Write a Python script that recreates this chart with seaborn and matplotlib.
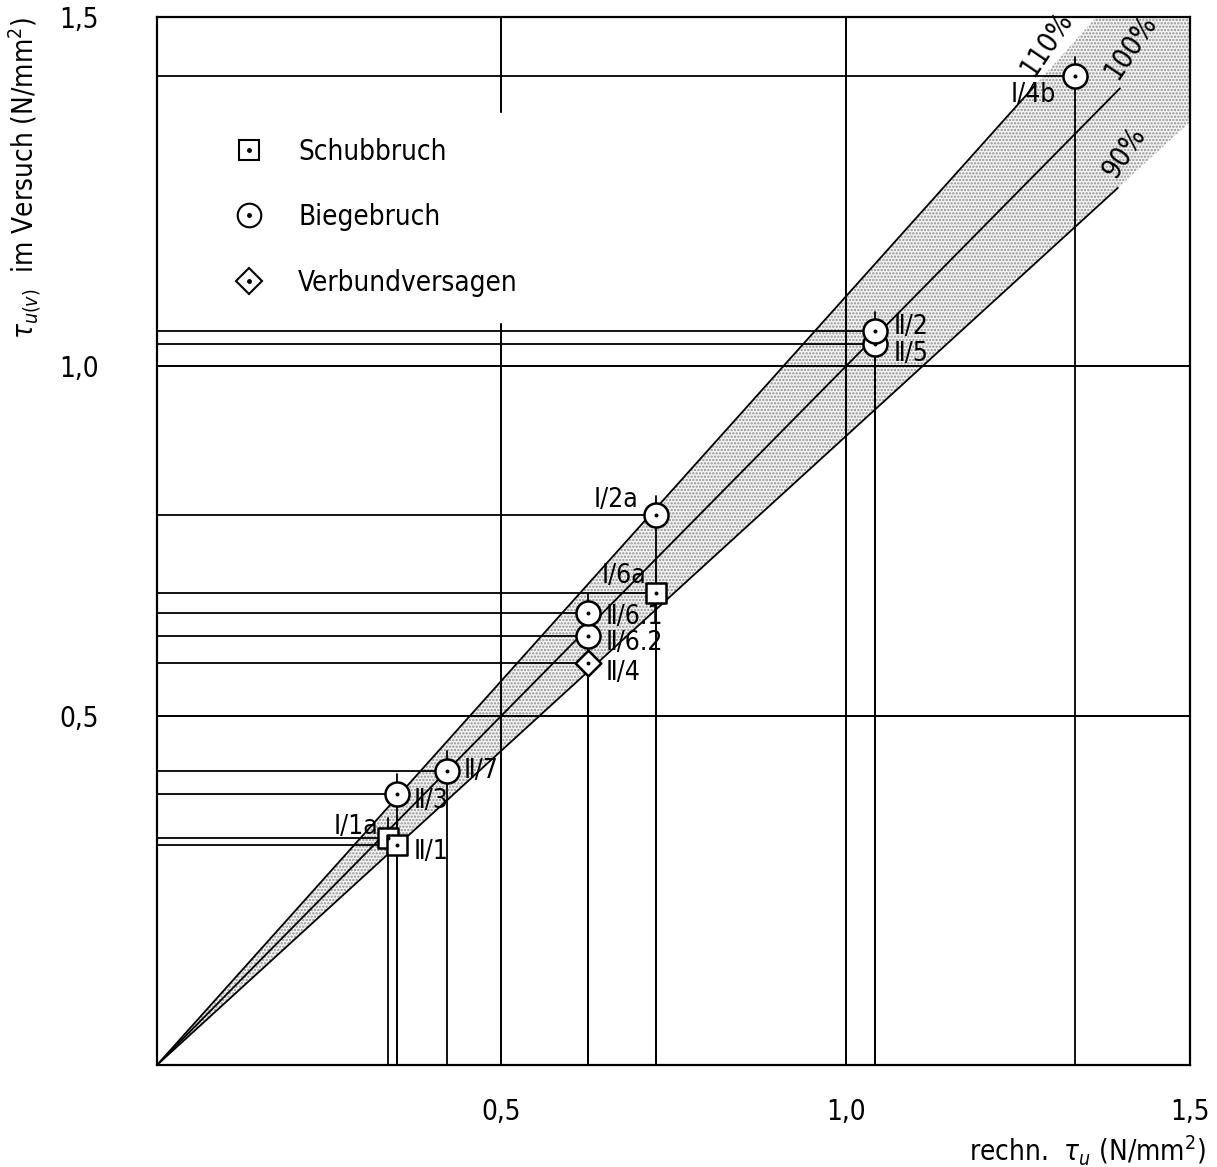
import seaborn as sns
import matplotlib.pyplot as plt
import numpy as np
import pandas as pd
from matplotlib.lines import Line2D

# Versuchswerte (rechn. tau_u / tau_u im Versuch)
labels = ['Ⅰ/1a', 'Ⅱ/1', 'Ⅱ/3', 'Ⅱ/7', 'Ⅱ/4', 'Ⅱ/6.2', 'Ⅱ/6.1', 'Ⅰ/6a', 'Ⅰ/2a', 'Ⅱ/5', 'Ⅱ/2', 'Ⅰ/4b']
x_calc = [0.335, 0.348, 0.348, 0.421, 0.625, 0.625, 0.625, 0.725, 0.725, 1.043, 1.043, 1.333]
y_test = [0.325, 0.315, 0.388, 0.421, 0.575, 0.614, 0.647, 0.676, 0.787, 1.032, 1.050, 1.415]
mode = ['Schubbruch', 'Schubbruch', 'Biegebruch', 'Biegebruch', 'Verbundversagen', 'Biegebruch',
        'Biegebruch', 'Schubbruch', 'Biegebruch', 'Biegebruch', 'Biegebruch', 'Biegebruch']
ratios = [1.1, 1.0, 0.9]
ratio_labels = ['110%', '100%', '90%']
ticks = [0, 0.5, 1.0, 1.5]
tick_labels = ['', '0,5', '1,0', '1,5']

df = pd.DataFrame({'x': x_calc, 'y': y_test, 'mode': mode, 'label': labels})

sns.set_style('white')
plt.rcParams['font.family'] = ['DejaVu Sans']
plt.rcParams['font.stretch'] = 'condensed'
plt.rcParams['text.color'] = 'black'
plt.rcParams['axes.labelcolor'] = 'black'
plt.rcParams['hatch.linewidth'] = 1.1
plt.rcParams['hatch.color'] = '#909090'

fig = plt.figure(figsize=(12.17, 11.67), dpi=100)
ax = fig.add_axes([0.129, 0.0874, 0.849, 0.898])
ax.set_xlim(0, 1.5)
ax.set_ylim(0, 1.5)

# Streuband 90% .. 110%
xb = np.linspace(0, 1.5, 200)
ax.fill_between(xb, 0.9 * xb, np.minimum(1.1 * xb, 1.5), facecolor='#f4f4f4',
                hatch='.....', edgecolor='#909090', linewidth=0, zorder=1)
ends = [1.275, 1.398, 1.395]
for r, e, lab in zip(ratios, ends, ratio_labels):
    xs = np.array([0, e])
    ax.plot(xs, r * xs, color='black', lw=1.3, zorder=2)
    ax.text(e + 0.004, r * e + 0.006, lab, rotation=56, fontsize=20,
            ha='left', va='bottom', rotation_mode='anchor', zorder=5, clip_on=False)

# Gitter
for g in [0.5, 1.0]:
    ax.axhline(g, color='black', lw=1.4, zorder=2)
    ax.axvline(g, color='black', lw=1.4, zorder=2)

# Hilfslinien zu jedem Punkt
for xi, yi in zip(x_calc, y_test):
    ax.plot([0, xi + 0.014], [yi, yi], color='black', lw=1.3, zorder=3)
    ax.plot([xi, xi], [0, yi + 0.028], color='black', lw=1.3, zorder=3)

markers = {'Schubbruch': 's', 'Biegebruch': 'o', 'Verbundversagen': 'D'}
sizes = {'Schubbruch': 190, 'Biegebruch': 300, 'Verbundversagen': 170}
for m, sub in df.groupby('mode'):
    sns.scatterplot(data=sub, x='x', y='y', marker=markers[m], s=sizes[m],
                    facecolor='white', edgecolor='black', linewidth=1.8,
                    ax=ax, zorder=6, legend=False)
sns.scatterplot(data=df, x='x', y='y', marker='o', s=8, color='black',
                linewidth=0, ax=ax, zorder=7, legend=False)

# Beschriftungen der Versuche
offsets = {
    'Ⅰ/1a': (-0.014, 0.016, 'right'), 'Ⅱ/1': (0.024, -0.01, 'left'),
    'Ⅱ/3': (0.024, -0.01, 'left'), 'Ⅱ/7': (0.024, 0.0, 'left'),
    'Ⅱ/4': (0.026, -0.014, 'left'), 'Ⅱ/6.2': (0.026, -0.01, 'left'),
    'Ⅱ/6.1': (0.026, -0.006, 'left'), 'Ⅰ/6a': (-0.014, 0.024, 'right'),
    'Ⅰ/2a': (-0.026, 0.022, 'right'), 'Ⅱ/5': (0.026, -0.014, 'left'),
    'Ⅱ/2': (0.026, 0.006, 'left'), 'Ⅰ/4b': (-0.028, -0.026, 'right'),
}
for xi, yi, lab in zip(x_calc, y_test, labels):
    dx, dy, ha = offsets[lab]
    ax.text(xi + dx, yi + dy, lab, fontsize=19, ha=ha, va='center', zorder=8)

# Legende
handles = []
for m in ['Schubbruch', 'Biegebruch', 'Verbundversagen']:
    ms = {'s': 15, 'o': 17, 'D': 13}[markers[m]]
    open_m = Line2D([], [], marker=markers[m], ls='', ms=ms, mfc='white',
                    mec='black', mew=1.5)
    dot = Line2D([], [], marker='o', ls='', ms=2.5, color='black')
    handles.append((open_m, dot))
leg = ax.legend(handles, ['Schubbruch', 'Biegebruch', 'Verbundversagen'],
                loc='upper left', bbox_to_anchor=(0.025, 0.922), fontsize=20,
                frameon=True, framealpha=1, edgecolor='white', facecolor='white',
                labelspacing=1.35, handletextpad=0.75, borderpad=0.9)
leg.set_zorder(9)

ax.set_xticks(ticks)
ax.set_xticklabels(tick_labels)
ax.set_yticks(ticks)
ax.set_yticklabels(tick_labels)
ax.tick_params(axis='both', direction='out', length=12, width=1.3,
               labelsize=20, colors='black')
ax.tick_params(axis='x', pad=12)
ax.tick_params(axis='y', pad=30)
for s in ax.spines.values():
    s.set_color('black')
    s.set_linewidth(1.6)

ax.set_ylabel(r'$\tau_{u(v)}$  im Versuch (N/mm$^2$)', fontsize=20, loc='top')
ax.yaxis.set_label_coords(-0.11, 1.0)
ax.set_xlabel(r'rechn.  $\tau_u$ (N/mm$^2$)', fontsize=20, loc='right')
ax.xaxis.set_label_coords(1.015, -0.065)

fig.savefig('out.png', dpi=100)
